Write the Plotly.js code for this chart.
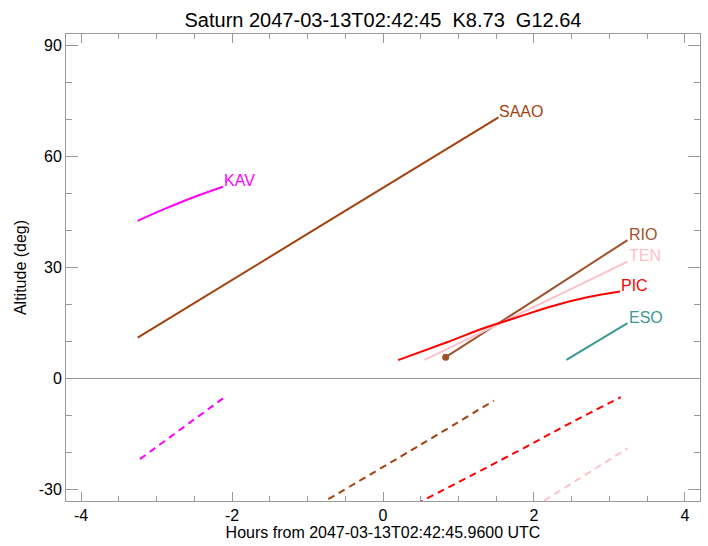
<!DOCTYPE html>
<html>
<head>
<meta charset="utf-8">
<script src="https://cdn.plot.ly/plotly-3.0.1.min.js"></script>
<style>html,body{margin:0;padding:0;background:#fff;}#chart{width:708px;height:546px;}</style>
</head>
<body>
<div id="chart"></div>
<script>
// Object altitude (solid) for each site
const kavHours = [-3.25, -2.87, -2.52, -2.12];
const kavAlt = [42.6, 46.0, 48.9, 51.8];
const saaoHours = [-3.25, -0.86, 1.53];
const saaoAlt = [11.1, 40.8, 70.5];
const rioHours = [0.83, 2.04, 3.24];
const rioAlt = [5.8, 21.6, 37.4];
const tenHours = [0.55, 1.72, 3.24];
const tenAlt = [5.1, 16.6, 31.6];
const picHours = [0.20, 0.83, 1.36, 1.80, 2.25, 2.69, 3.14];
const picAlt = [5.0, 9.7, 13.8, 16.7, 19.6, 21.9, 23.5];
const esoHours = [2.43, 3.24];
const esoAlt = [5.1, 15.0];
// Sun altitude (dashed) for each site
const kavSunHours = [-3.22, -2.12];
const kavSunAlt = [-21.7, -5.3];
const saaoSunHours = [-1.0, 0.5, 1.47];
const saaoSunAlt = [-35.8, -17.8, -5.9];
const picSunHours = [0.30, 1.82, 2.48, 3.15];
const picSunAlt = [-35.3, -19.2, -12.0, -5.0];
const tenSunHours = [2.0, 3.24];
const tenSunAlt = [-34.6, -18.8];

const siteNames = ['KAV', 'SAAO', 'RIO', 'TEN', 'PIC', 'ESO'];
const title = 'Saturn 2047-03-13T02:42:45\u00a0\u00a0K8.73\u00a0\u00a0G12.64';
const xTitle = 'Hours from 2047-03-13T02:42:45.9600 UTC';
const yTitle = 'Altitude (deg)';
const xTickVals = [-4, -2, 0, 2, 4];
const xTickText = ['-4', '-2', '0', '2', '4'];
const yTickVals = [-30, 0, 30, 60, 90];
const yTickText = ['-30', '0', '30', '60', '90'];

const colors = {KAV: '#ff00ff', SAAO: '#a3420e', RIO: '#a0522d', TEN: '#ffc0cb', PIC: '#ff0000', ESO: '#3a9a92'};
const solid = {KAV: [kavHours, kavAlt], SAAO: [saaoHours, saaoAlt], RIO: [rioHours, rioAlt], TEN: [tenHours, tenAlt], PIC: [picHours, picAlt], ESO: [esoHours, esoAlt]};
const sun = {KAV: [kavSunHours, kavSunAlt], SAAO: [saaoSunHours, saaoSunAlt], PIC: [picSunHours, picSunAlt], TEN: [tenSunHours, tenSunAlt]};

const traces = [];
const annotations = [];
siteNames.forEach(s => {
  const [x, y] = solid[s];
  traces.push({x: x, y: y, mode: 'lines', line: {color: colors[s], width: 2, shape: 'spline', smoothing: 1}, hoverinfo: 'skip'});
  annotations.push({x: x[x.length - 1], y: y[y.length - 1], xref: 'x', yref: 'y', text: s, showarrow: false,
    xanchor: 'left', yanchor: 'middle', yshift: 6, xshift: -1, font: {family: 'Liberation Sans, Arial, sans-serif', size: 16, color: colors[s]}});
  if (sun[s]) {
    traces.push({x: sun[s][0], y: sun[s][1], mode: 'lines', line: {color: colors[s], width: 2, dash: '7px,5px', shape: 'spline', smoothing: 1}, hoverinfo: 'skip'});
  }
});
traces.push({x: [rioHours[0]], y: [rioAlt[0]], mode: 'markers', marker: {color: colors.RIO, size: 7}, hoverinfo: 'skip'});

const axColor = '#999999';
const font = {family: 'Liberation Sans, Arial, sans-serif', size: 16, color: '#000'};
const layout = {
  width: 708, height: 546,
  margin: {l: 66, r: 8, t: 34, b: 45},
  paper_bgcolor: '#fff', plot_bgcolor: '#fff',
  showlegend: false,
  font: font,
  title: {text: title, font: {family: 'Liberation Sans, Arial, sans-serif', size: 20, color: '#000'}, x: 0.5, xref: 'paper', y: 1 - 20 / 546, yref: 'container', yanchor: 'middle'},
  xaxis: {range: [-4.2, 4.2], tickmode: 'array', tickvals: xTickVals, ticktext: xTickText, ticks: 'inside', ticklen: 9, tickcolor: axColor, tickwidth: 1,
    minor: {tickmode: 'linear', tick0: 0, dtick: 0.5, ticklen: 5, tickcolor: axColor, ticks: 'inside'},
    showgrid: false, zeroline: false, showline: true, linecolor: axColor, linewidth: 1, mirror: 'allticks',
    tickfont: font, title: {text: xTitle, font: font, standoff: 2}},
  yaxis: {range: [-33, 93], tickmode: 'array', tickvals: yTickVals, ticktext: yTickText, ticks: 'inside', ticklen: 12, tickcolor: axColor, tickwidth: 1,
    minor: {tickmode: 'linear', tick0: 0, dtick: 10, ticklen: 6, tickcolor: axColor, ticks: 'inside'},
    showgrid: false, zeroline: true, zerolinecolor: axColor, zerolinewidth: 1,
    showline: true, linecolor: axColor, linewidth: 1, mirror: 'allticks',
    tickfont: font, title: {text: yTitle, font: font, standoff: 8}},
  annotations: annotations
};
Plotly.newPlot('chart', traces, layout, {displayModeBar: false, staticPlot: true});
</script>
</body>
</html>
